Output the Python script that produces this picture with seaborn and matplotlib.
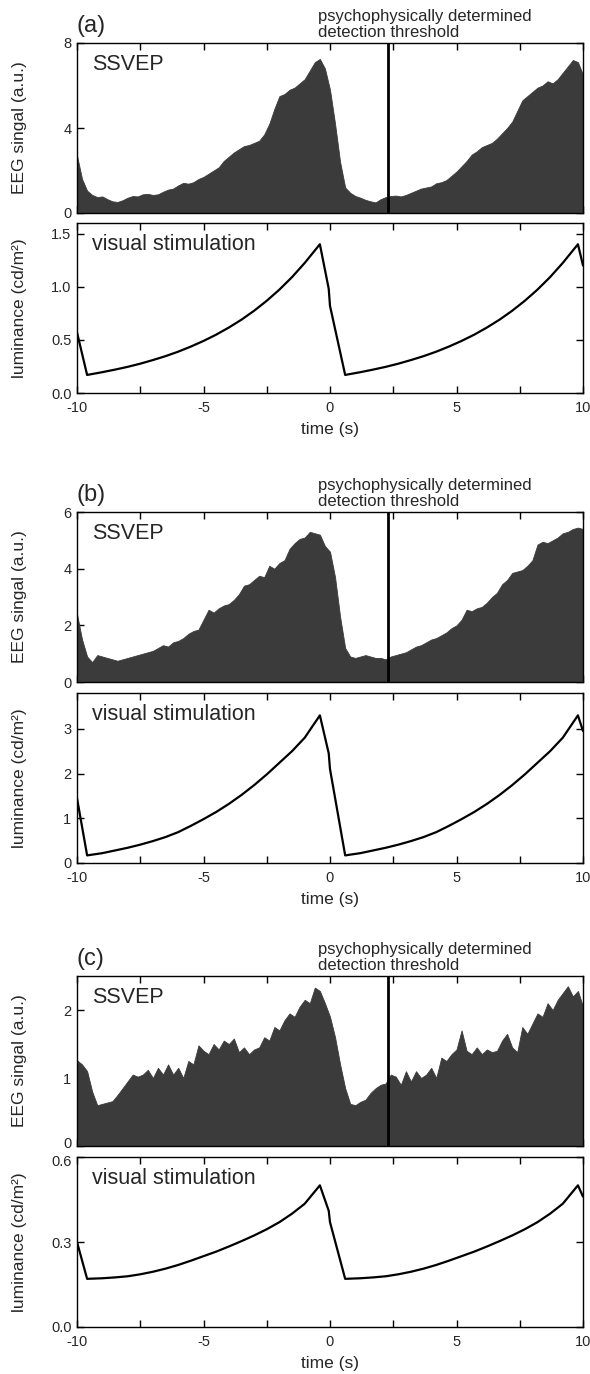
import numpy as np
import matplotlib
matplotlib.use("Agg")
import matplotlib.pyplot as plt
import matplotlib.transforms as mtransforms
import seaborn as sns
from matplotlib.ticker import MultipleLocator, FormatStrFormatter

sns.set_theme(style="ticks")
plt.rcParams["font.family"] = ["Liberation Sans", "DejaVu Sans"]
plt.rcParams["axes.unicode_minus"] = False

# ---------------- data ----------------
panel_labels = ["(a)", "(b)", "(c)"]
threshold_time = [2.3, 2.3, 2.3]
threshold_text = "psychophysically determined\ndetection threshold"

# EEG time grid (s)
eeg_t = np.round(np.arange(-10.0, 10.001, 0.2), 1)

eeg_a = [2.7, 1.6, 1.05, 0.85, 0.75, 0.78, 0.65, 0.55, 0.52, 0.6,
         0.72, 0.8, 0.78, 0.88, 0.9, 0.85, 0.88, 1.0, 1.1, 1.15,
         1.3, 1.42, 1.38, 1.45, 1.6, 1.7, 1.85, 2.0, 2.15, 2.45,
         2.65, 2.85, 3.0, 3.15, 3.2, 3.3, 3.4, 3.7, 4.2, 4.9,
         5.5, 5.6, 5.8, 5.9, 6.1, 6.3, 6.7, 7.1, 7.25, 6.8,
         5.8, 4.2, 2.4, 1.2, 0.95, 0.8, 0.72, 0.62, 0.55, 0.5,
         0.65, 0.75, 0.8, 0.82, 0.78, 0.85, 0.95, 1.05, 1.15, 1.2,
         1.25, 1.4, 1.45, 1.55, 1.75, 1.95, 2.2, 2.45, 2.75, 2.9,
         3.1, 3.2, 3.3, 3.5, 3.75, 4.0, 4.3, 4.8, 5.3, 5.5,
         5.7, 5.9, 6.0, 6.2, 6.1, 6.3, 6.6, 6.9, 7.2, 7.1,
         6.5]

eeg_b = [2.4, 1.5, 0.9, 0.7, 0.95, 0.9, 0.85, 0.8, 0.75, 0.8,
         0.85, 0.9, 0.95, 1.0, 1.05, 1.1, 1.2, 1.3, 1.25, 1.4,
         1.45, 1.55, 1.7, 1.8, 1.85, 2.2, 2.55, 2.45, 2.6, 2.7,
         2.75, 2.9, 3.1, 3.4, 3.45, 3.6, 3.75, 3.7, 4.1, 4.0,
         4.2, 4.3, 4.7, 4.9, 5.05, 5.1, 5.3, 5.25, 5.2, 4.8,
         4.6, 3.7, 2.3, 1.2, 0.9, 0.85, 0.9, 0.95, 0.9, 0.85,
         0.85, 0.8, 0.9, 0.95, 1.0, 1.05, 1.15, 1.25, 1.3, 1.4,
         1.5, 1.55, 1.65, 1.75, 1.9, 2.0, 2.2, 2.55, 2.5, 2.6,
         2.65, 2.8, 3.0, 3.15, 3.45, 3.6, 3.85, 3.9, 3.95, 4.1,
         4.3, 4.85, 4.95, 4.9, 5.0, 5.1, 5.25, 5.3, 5.4, 5.45,
         5.4]

eeg_c = [1.26, 1.2, 1.1, 0.8, 0.6, 0.62, 0.64, 0.66, 0.75, 0.85,
         0.95, 1.05, 1.02, 1.05, 1.12, 1.0, 1.15, 1.05, 1.2, 1.05,
         1.15, 1.0, 1.25, 1.2, 1.48, 1.4, 1.35, 1.5, 1.42, 1.55,
         1.5, 1.58, 1.38, 1.45, 1.35, 1.42, 1.45, 1.6, 1.55, 1.75,
         1.7, 1.85, 1.95, 1.9, 2.05, 2.15, 2.1, 2.33, 2.28, 2.1,
         1.9, 1.6, 1.2, 0.85, 0.62, 0.6, 0.65, 0.68, 0.78, 0.85,
         0.9, 0.92, 1.05, 1.02, 0.9, 1.1, 0.95, 1.1, 1.0, 1.05,
         1.15, 1.0, 1.3, 1.25, 1.35, 1.42, 1.7, 1.4, 1.35, 1.45,
         1.35, 1.42, 1.38, 1.4, 1.55, 1.65, 1.45, 1.38, 1.75, 1.65,
         1.8, 1.95, 1.9, 2.1, 2.0, 2.15, 2.25, 2.35, 2.2, 2.28,
         2.05]

# luminance time points (s)
lum_t = [-10.0, -9.6, -9.0, -8.5, -8.0, -7.5, -7.0, -6.5, -6.0, -5.5,
         -5.0, -4.5, -4.0, -3.5, -3.0, -2.5, -2.0, -1.5, -1.0, -0.4,
         -0.05, 0.0, 0.6, 1.2, 1.7, 2.2, 2.7, 3.2, 3.7, 4.2,
         4.7, 5.2, 5.7, 6.2, 6.7, 7.2, 7.7, 8.2, 8.7, 9.2,
         9.8, 10.0]

lum_a = [0.57, 0.17, 0.196, 0.22, 0.246, 0.276, 0.31, 0.347, 0.389, 0.437,
         0.49, 0.549, 0.616, 0.69, 0.774, 0.868, 0.973, 1.091, 1.224, 1.40,
         0.98, 0.82, 0.17, 0.196, 0.22, 0.246, 0.276, 0.31, 0.347, 0.389,
         0.437, 0.49, 0.549, 0.616, 0.69, 0.774, 0.868, 0.973, 1.091, 1.224,
         1.40, 1.2]

lum_b = [1.45, 0.17, 0.22, 0.28, 0.34, 0.41, 0.49, 0.58, 0.69, 0.83,
         0.98, 1.14, 1.32, 1.52, 1.74, 1.98, 2.24, 2.5, 2.8, 3.3,
         2.45, 2.1, 0.17, 0.22, 0.28, 0.34, 0.41, 0.49, 0.58, 0.69,
         0.83, 0.98, 1.14, 1.32, 1.52, 1.74, 1.98, 2.24, 2.5, 2.8,
         3.3, 2.95]

lum_c = [0.30, 0.17, 0.172, 0.175, 0.179, 0.186, 0.195, 0.206, 0.219, 0.234,
         0.25, 0.266, 0.284, 0.303, 0.323, 0.345, 0.37, 0.40, 0.435, 0.50,
         0.41, 0.37, 0.17, 0.172, 0.175, 0.179, 0.186, 0.195, 0.206, 0.219,
         0.234, 0.25, 0.266, 0.284, 0.303, 0.323, 0.345, 0.37, 0.40, 0.435,
         0.50, 0.46]

eeg_series = [eeg_a, eeg_b, eeg_c]
lum_series = [lum_a, lum_b, lum_c]
eeg_ylim = [8, 6, 2.5]
eeg_yticks = [[0, 4, 8], [0, 2, 4, 6], [0, 1, 2]]
lum_ylim = [1.6, 3.8, 0.6]
lum_yticks = [[0.0, 0.5, 1.0, 1.5], [0, 1, 2, 3], [0.0, 0.3, 0.6]]
lum_fmt = ["%.1f", "%d", "%.1f"]
x_ticks = [-10, -5, 0, 5, 10]

# ---------------- layout ----------------
W, H = 590, 1374
fig = plt.figure(figsize=(W / 100, H / 100), dpi=100)
fig.patch.set_facecolor("white")

left = 77 / W
width = 506 / W
axh = 170 / H
eeg_tops = [43, 512, 976]
lum_tops = [223, 693, 1157]

fill_col = "#3b3b3b"


def style_axis(ax):
    for s in ax.spines.values():
        s.set_linewidth(1.0)
        s.set_color("black")
        s.set_visible(True)
    ax.tick_params(which="both", direction="in", top=True, right=True,
                   length=5, width=1.0, color="black", labelsize=10.5)
    ax.tick_params(axis="x", which="both", pad=6)
    ax.tick_params(axis="y", which="both", pad=4)
    ax.set_facecolor("white")
    ax.grid(False)


def nudge(label, dy_px):
    off = mtransforms.ScaledTranslation(0, dy_px / 100, fig.dpi_scale_trans)
    label.set_transform(label.get_transform() + off)


for i in range(3):
    ax_e = fig.add_axes([left, 1 - (eeg_tops[i] + 170) / H, width, axh])
    ax_l = fig.add_axes([left, 1 - (lum_tops[i] + 170) / H, width, axh])

    # EEG signal (filled)
    ax_e.fill_between(eeg_t, 0, eeg_series[i], color=fill_col,
                      linewidth=0.6, edgecolor=fill_col, zorder=1)
    ax_e.axvline(threshold_time[i], color="black", lw=2.0, zorder=3)
    ax_e.set_xlim(-10, 10)
    ax_e.set_ylim(0, eeg_ylim[i])
    ax_e.set_yticks(eeg_yticks[i])
    ax_e.set_xticks(x_ticks)
    ax_e.xaxis.set_minor_locator(MultipleLocator(2.5))
    style_axis(ax_e)
    ax_e.tick_params(labelbottom=False)
    ax_e.set_ylabel("EEG singal (a.u.)", fontsize=12.5)
    ax_e.yaxis.set_label_coords(-0.098, 0.5)
    ax_e.set_xlabel("")
    ax_e.text(0.03, 0.935, "SSVEP", transform=ax_e.transAxes, fontsize=15.5,
              ha="left", va="top")
    ax_e.text(0.0, 1.035, panel_labels[i], transform=ax_e.transAxes,
              fontsize=17, ha="left", va="bottom")
    ax_e.text(0.476, 1.015, threshold_text, transform=ax_e.transAxes,
              fontsize=12, ha="left", va="bottom", linespacing=1.1)

    # luminance
    sns.lineplot(x=lum_t, y=lum_series[i], color="black", lw=1.6,
                 estimator=None, sort=False, ax=ax_l)
    ax_l.set_xlim(-10, 10)
    ax_l.set_ylim(0, lum_ylim[i])
    ax_l.set_yticks(lum_yticks[i])
    ax_l.yaxis.set_major_formatter(FormatStrFormatter(lum_fmt[i]))
    ax_l.set_xticks(x_ticks)
    ax_l.xaxis.set_minor_locator(MultipleLocator(2.5))
    style_axis(ax_l)
    ax_l.set_ylabel("luminance (cd/m²)", fontsize=12.5)
    ax_l.yaxis.set_label_coords(-0.098, 0.5)
    ax_l.set_xlabel("time (s)", fontsize=12.5, labelpad=5)
    ax_l.text(0.03, 0.935, "visual stimulation", transform=ax_l.transAxes,
              fontsize=15.5, ha="left", va="top")

    # keep the stacked "0" / top luminance labels apart (as in the reference)
    if lum_yticks[i][-1] >= lum_ylim[i] - 1e-9:
        e_ticks = ax_e.yaxis.get_major_ticks()
        l_ticks = ax_l.yaxis.get_major_ticks()
        nudge(e_ticks[0].label1, 3)
        nudge(l_ticks[-1].label1, -3)

fig.savefig("out.png", dpi=100, facecolor="white")
